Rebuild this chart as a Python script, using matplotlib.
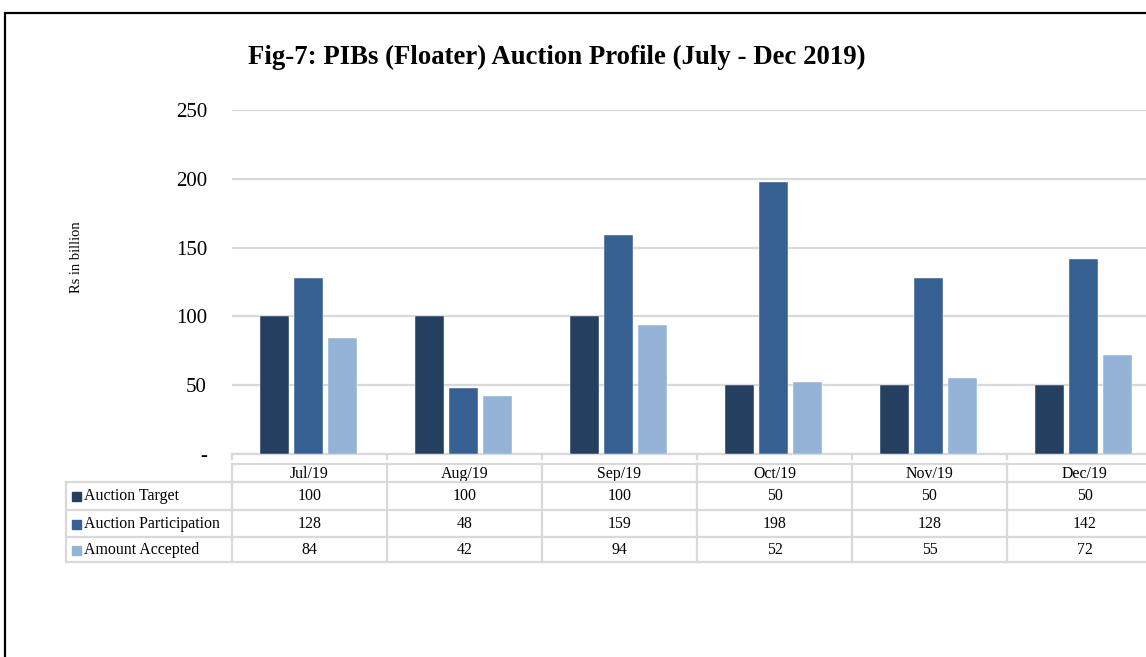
import matplotlib.pyplot as plt
import matplotlib.transforms as mtransforms
from matplotlib.patches import Rectangle
import numpy as np

months = ["Jul/19", "Aug/19", "Sep/19", "Oct/19", "Nov/19", "Dec/19"]
series_names = ["Auction Target", "Auction Participation", "Amount Accepted"]
auction_target = [100, 100, 100, 50, 50, 50]
auction_participation = [128, 48, 159, 198, 128, 142]
amount_accepted = [84, 42, 94, 52, 55, 72]
colors = ["#243F60", "#376092", "#95B3D7"]
yticks = [0, 50, 100, 150, 200, 250]
ytick_labels = ["-", "50", "100", "150", "200", "250"]

W, H = 1146, 657
plt.rcParams["font.family"] = ["Liberation Serif", "DejaVu Serif"]

fig = plt.figure(figsize=(W / 100, H / 100), dpi=100)


def fy(py):
    return 1 - py / H


def fx(px):
    return px / W


# outer frame (cut off on the right and bottom)
fig.patches.append(Rectangle((fx(5), fy(1200)), 2, fy(13) - fy(1200),
                             transform=fig.transFigure, fill=False,
                             edgecolor="black", linewidth=1.6))

ax_left, ax_right = 232, 1162
ax_top, ax_bottom = 110, 454
ax = fig.add_axes([fx(ax_left), fy(ax_bottom), fx(ax_right - ax_left),
                   fy(ax_top) - fy(ax_bottom)])

all_series = [auction_target, auction_participation, amount_accepted]
x = np.arange(len(months))
width = 0.187
step = 0.219
for i, values in enumerate(all_series):
    ax.bar(x + (i - 1) * step - 0.005, values, width=width, color=colors[i],
           edgecolor="#ffffff", linewidth=0.3, zorder=3)

ax.set_xlim(-0.5, len(months) - 0.5)
ax.set_ylim(0, 250)
ax.set_yticks(yticks)
ax.set_yticklabels(ytick_labels, fontsize=15)
ax.tick_params(axis="y", length=0, pad=18)
ax.set_xticks([])
ax.grid(axis="y", color="#d9d9d9", linewidth=1.6, zorder=0)
for side in ["top", "right", "left"]:
    ax.spines[side].set_visible(False)
ax.spines["bottom"].set_color("#d9d9d9")
ax.spines["bottom"].set_linewidth(1.6)

fig.text(fx(77), fy(257), "Rs in billion", rotation=90, fontsize=10.5,
         ha="center", va="center")
fig.text(fx(557), fy(57), "Fig-7: PIBs (Floater) Auction Profile (July - Dec 2019)",
         fontsize=19.3, fontweight="bold", ha="center", va="center")

# data table below the chart
trans = mtransforms.blended_transform_factory(ax.transData, fig.transFigure)
grid_kw = dict(color="#d9d9d9", linewidth=1.6, clip_on=False)
row_edges = [464, 482, 510, 537, 562]
label_left = 66
for k in range(len(months) + 1):
    xb = k - 0.5
    ax.plot([xb, xb], [fy(454), fy(459)], transform=trans, **grid_kw)
    ax.plot([xb, xb], [fy(row_edges[0]), fy(row_edges[-1])], transform=trans, **grid_kw)
for j, ye in enumerate(row_edges):
    x0 = fx(label_left) if j >= 1 else fx(ax_left)
    fig.add_artist(plt.Line2D([x0, 1.02], [fy(ye), fy(ye)],
                              transform=fig.transFigure, color="#d9d9d9",
                              linewidth=1.6))
fig.add_artist(plt.Line2D([fx(label_left)] * 2, [fy(row_edges[1]), fy(row_edges[-1])],
                          transform=fig.transFigure, color="#d9d9d9", linewidth=1.6))

for k, m in enumerate(months):
    ax.text(k, fy((row_edges[0] + row_edges[1]) / 2 + 1), m, transform=trans,
            ha="center", va="center", fontsize=11.4)
for r, (name, values) in enumerate(zip(series_names, all_series)):
    yc = fy((row_edges[r + 1] + row_edges[r + 2]) / 2 + 0.5)
    fig.patches.append(Rectangle((fx(72), yc - 4.5 / H), 9 / W, 9 / H,
                                 transform=fig.transFigure, color=colors[r]))
    fig.text(fx(84), yc, name, ha="left", va="center", fontsize=11.4)
    for k, v in enumerate(values):
        ax.text(k, yc, str(v), transform=trans, ha="center", va="center",
                fontsize=11.4)

fig.savefig("out.png", dpi=100)
